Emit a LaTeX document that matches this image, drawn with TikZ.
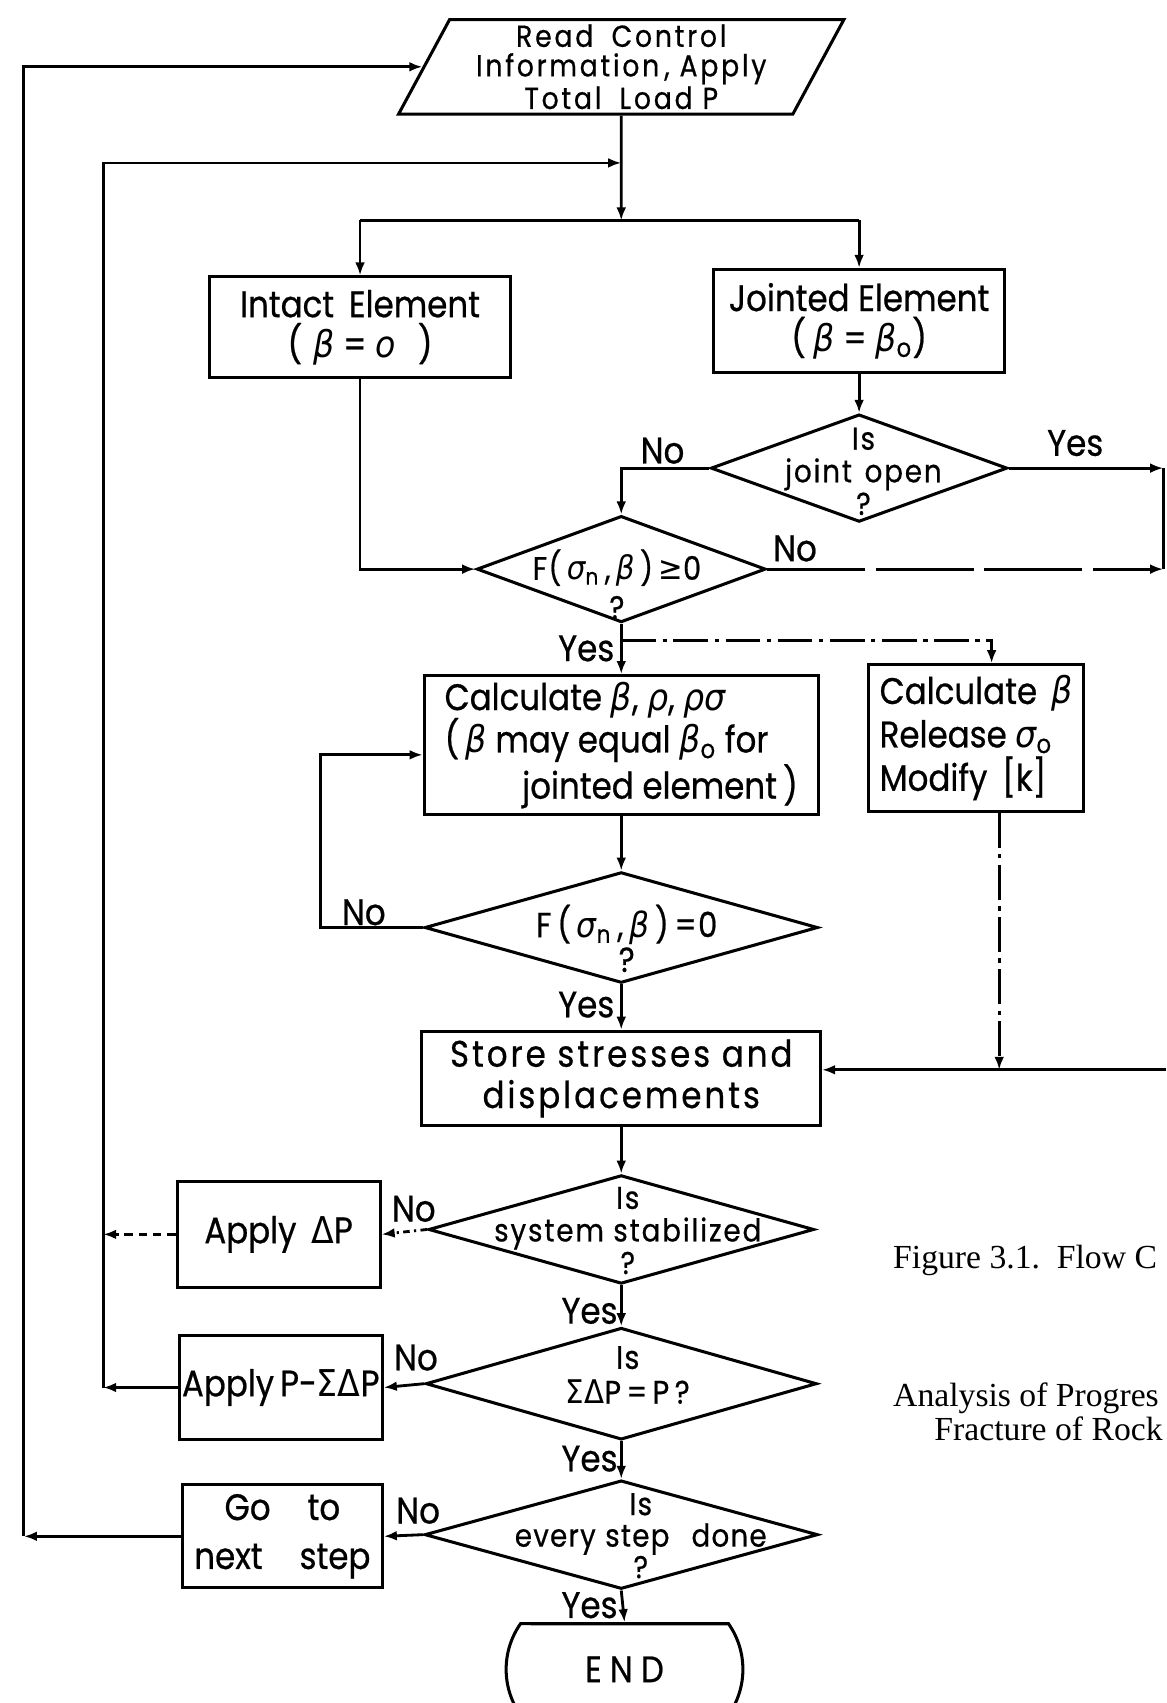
\documentclass[tikz,border=0pt]{standalone}
\usepackage{fontspec}
\setmainfont{Liberation Serif}
\newfontfamily\lett[FakeStretch=0.88,FakeBold=0.6]{Poppins}
\newfontfamily\grk[FakeStretch=0.9]{DejaVu Sans}
\newcommand\fsz[2]{\fontsize{#1}{#2}\selectfont}
\newcommand\gi[1]{{\grk\itshape #1}}
\newcommand\gu[1]{{\grk #1}}
\newcommand\trk[1]{\addfontfeatures{LetterSpace=#1}}
\usetikzlibrary{shapes.geometric,shapes.misc,arrows.meta}
\begin{document}
\begin{tikzpicture}[x=0.5pt,y=-0.5pt,
  ln/.style={line width=1.3pt},
  arr/.style={line width=1.3pt,-{Latex[length=6pt,width=4.5pt]}},
  box/.style={draw,line width=1.4pt,rectangle,inner sep=0pt,align=center,font=\lett\fsz{17}{19}},
  dia/.style={draw,line width=1.4pt,diamond,inner sep=0pt},
  dtext/.style={align=center,inner sep=0pt,font=\lett\fsz{14.5}{15}\trk{6}},
  lbl/.style={inner sep=0pt,font=\lett\fsz{17}{17}},
  captext/.style={inner sep=0pt,anchor=base west,font=\fsz{15.5}{16}},
  longdash/.style={dash pattern=on 45pt off 5pt},
  dashdot/.style={dash pattern=on 16pt off 3pt on 2pt off 3pt},
  dotdash/.style={dash pattern=on 3pt off 2pt on 1pt off 2pt},
  shortdash/.style={dash pattern=on 4pt off 2.5pt},
]
\useasboundingbox (0,0) rectangle (1074,1568);
% columns
\coordinate (L1) at (22,0);
\coordinate (L2) at (95,0);
\coordinate (sp) at (572,203);
\coordinate (lp2) at (572,150);
\coordinate (R1) at (1071,431);
\coordinate (R2) at (1071,524);
\coordinate (yb) at (572,590);
\coordinate (cbr) at (913,590);
\coordinate (nl) at (295,695);
\coordinate (cbd) at (920,985);
\coordinate (sr) at (1074,985);

% nodes
\node[trapezium,draw,line width=1.4pt,trapezium left angle=59,trapezium right angle=121,
  trapezium stretches body,minimum width=205pt,minimum height=43.5pt,inner sep=0pt,
  align=center,font=\lett\fsz{14}{13.6}\trk{9}] (read) at (572,61.5)
  {Read\hspace{0.6em}Control\\Information\,, Apply\\Total\hspace{0.6em}Load P};
\node[box,minimum width=138.5pt,minimum height=46.5pt,font=\lett\fsz{17}{18.5}] (intact) at (331.5,301.5)
  {Intact\hspace{0.4em}Element\\(\hspace{0.3em}\gi{β} = \gi{o}\hspace{0.6em})};
\node[box,minimum width=134pt,minimum height=47.5pt,font=\lett\fsz{17}{18.5}] (jointed) at (791,295.5)
  {Jointed Element\\(\hspace{0.2em}\gi{β} = \gi{β}\textsubscript{o})};
\node[dia,minimum width=136.5pt,minimum height=49.5pt] (jo) at (791,431) {};
\node[dtext] (jo-t) at (795,434) {Is\\joint\hspace{0.4em}open\\?};
\node[dia,minimum width=133pt,minimum height=49pt] (fge) at (572,524) {};
\node[dtext,font=\lett\fsz{15}{18}\trk{4}] (fge-t) at (568,538) {F(\,\gi{σ}\textsubscript{n}\,,\,\gi{β}\,)\,\gu{≥}0\\?};
\node[box,minimum width=181.5pt,minimum height=64pt,align=left,font=\lett\fsz{17}{19.5}] (calc) at (572,686)
  {Calculate \gi{β}, \gi{ρ}, \gi{ρσ}\\(\,\gi{β} may equal \gi{β}\textsubscript{o} for\\\hspace*{2.1em}jointed element\,)};
\node[box,minimum width=99pt,minimum height=67.5pt,align=left,font=\lett\fsz{17}{20}] (calcb) at (899,679.5)
  {Calculate\hspace{0.4em}\gi{β}\\Release \gi{σ}\textsubscript{o}\\Modify\hspace{0.4em}[k]};
\node[dia,minimum width=181pt,minimum height=51pt] (f0) at (572,854) {};
\node[dtext,font=\lett\fsz{16}{16}\trk{4}] (f0-t) at (577,864) {F\,(\,\gi{σ}\textsubscript{n}\,,\,\gi{β}\,)\,=0\\?};
\node[box,minimum width=183.5pt,minimum height=43.5pt,font=\lett\fsz{17}{19}] (store) at (572,993)
  {\trk{8}Store stresses and\\\trk{8}displacements};
\node[dia,minimum width=177.5pt,minimum height=50pt] (sys) at (572,1132) {};
\node[dtext] (sys-t) at (578,1133) {Is\\system stabilized\\?};
\node[box,minimum width=93.5pt,minimum height=48.5pt] (dp) at (256.5,1136.5) {Apply\hspace{0.4em}\gu{Δ}P};
\node[dia,minimum width=180pt,minimum height=51.5pt] (sum) at (572,1274) {};
\node[dtext,font=\lett\fsz{15}{16}\trk{4}] (sum-t) at (578,1266) {Is\\\gu{ΣΔ}P\,=\,P\,?};
\node[box,minimum width=93.5pt,minimum height=47.5pt] (psdp) at (258.5,1277.5) {Apply\,P-\gu{ΣΔ}P};
\node[dia,minimum width=181pt,minimum height=50pt] (every) at (572,1413) {};
\node[dtext,font=\lett\fsz{14.5}{14.5}\trk{4}] (every-t) at (590,1414) {Is\\every\hspace{0.3em}step\hspace{0.7em}done\\?};
\node[box,minimum width=92pt,minimum height=47.5pt,font=\lett\fsz{17}{22.5}] (gonext) at (260,1414.5)
  {Go\hspace{1em}to\\next\hspace{1em}step};
\node[draw,line width=1.4pt,rounded rectangle,rounded rectangle arc length=70,inner sep=0pt,
  minimum width=109pt,minimum height=42pt,font=\lett\fsz{17}{17}] (end) at (575,1537)
  {\trk{22}END};

% labels
\node[lbl] (l1) at (610,415) {No};
\node[lbl] (l2) at (990,408) {Yes};
\node[lbl] (l3) at (732,505) {No};
\node[lbl,anchor=east] (l4) at (566,597) {Yes};
\node[lbl] (l5) at (335,840) {No};
\node[lbl,anchor=east] (l6) at (566,925) {Yes};
\node[lbl] (l7) at (381,1113) {No};
\node[lbl,anchor=east] (l8) at (569,1207) {Yes};
\node[lbl] (l9) at (383,1250) {No};
\node[lbl,anchor=east] (l10) at (569,1343) {Yes};
\node[lbl] (l11) at (385,1391) {No};
\node[lbl,anchor=east] (l12) at (569,1478) {Yes};

% caption
\node[captext] (c1) at (822,1168) {Figure 3.1.\ \ Flow C};
\node[captext] (c2) at (822,1295) {Analysis of Progres};
\node[captext] (c3) at (860,1326) {Fracture of Rock};

% connectors
\draw[arr] (read.south) -- (sp);
\draw[ln] (intact.north |- sp) -- (jointed.north |- sp);
\draw[arr] (intact.north |- sp) -- (intact.north);
\draw[arr] (jointed.north |- sp) -- (jointed.north);
\draw[arr] (jointed.south) -- (jo.north);
\draw[arr] (jo.west) -| (fge.north);
\draw[arr] (jo.east) -- (R1);
\draw[ln] (R1) -- (R2);
\draw[arr,longdash] (fge.east) -- (R2);
\draw[arr] (intact.south) |- (fge.west);
\draw[arr] (fge.south) -- (calc.north);
\draw[arr,dashdot] (yb) -- (cbr) -- (cbr |- calcb.north);
\draw[arr] (calc.south) -- (f0.north);
\draw[arr] (f0.west) -| (nl) -- (nl -| calc.west);
\draw[arr] (f0.south) -- (store.north);
\draw[arr,dashdot] (cbd |- calcb.south) -- (cbd);
\draw[arr] (sr) -- (sr -| store.east);
\draw[arr] (store.south) -- (sys.north);
\draw[arr,dotdash] (sys.west) -- (dp.east);
\draw[arr,shortdash] (dp.west) -- (dp.west -| L2);
\draw[arr] (sys.south) -- (sum.north);
\draw[arr] (sum.west) -- (psdp.east);
\draw[arr] (psdp.west) -- (psdp.west -| L2);
\draw[arr] (psdp.west -| L2) -- (L2 |- lp2) -- (lp2);
\draw[arr] (sum.south) -- (every.north);
\draw[arr] (every.west) -- (gonext.east);
\draw[arr] (gonext.west) -- (gonext.west -| L1);
\draw[arr] (gonext.west -| L1) -- (L1 |- read.west) -- (read.west);
\draw[arr] (every.south) -- (end.north);
\end{tikzpicture}
\end{document}
